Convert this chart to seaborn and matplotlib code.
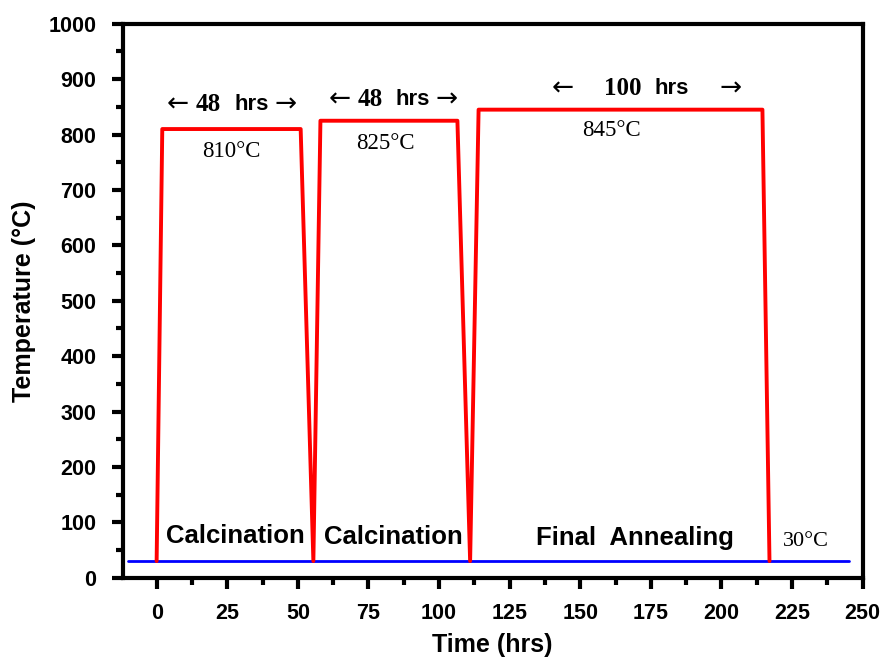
import matplotlib
matplotlib.use("Agg")
import matplotlib.pyplot as plt
from matplotlib.ticker import MultipleLocator
import seaborn as sns
import pandas as pd

# Heat-treatment schedule (time in hours, furnace temperature in °C)
time_hrs = [0, 2, 51, 55.5, 58, 106.5, 111, 114, 214.5, 217]
temp_c = [30, 810, 810, 30, 825, 825, 30, 845, 845, 30]

# Ambient baseline
ambient_time = [-10, 245]
ambient_temp = [30, 30]

stage_names = ["Calcination", "Calcination", "Final  Annealing"]
hold_labels = ["810°C", "825°C", "845°C"]
hold_hours = ["48", "48", "100"]

sns.set_theme(style="white")
plt.rcParams["font.family"] = ["Liberation Sans", "DejaVu Sans"]
plt.rcParams["text.color"] = "black"
plt.rcParams["axes.labelcolor"] = "black"
plt.rcParams["xtick.color"] = "black"
plt.rcParams["ytick.color"] = "black"

fig, ax = plt.subplots(figsize=(8.83, 6.61), dpi=100)
fig.subplots_adjust(left=0.139, right=0.977, top=0.964, bottom=0.126)

profile = pd.DataFrame({"t": time_hrs, "T": temp_c})
ambient = pd.DataFrame({"t": ambient_time, "T": ambient_temp})

sns.lineplot(data=ambient, x="t", y="T", sort=False, color="#0000FF", lw=2.0, ax=ax)
sns.lineplot(data=profile, x="t", y="T", sort=False, color="#FF0000", lw=2.8, ax=ax)

ax.set_xlim(-12, 250)
ax.set_ylim(0, 1000)
ax.xaxis.set_major_locator(MultipleLocator(25))
ax.xaxis.set_minor_locator(MultipleLocator(12.5))
ax.yaxis.set_major_locator(MultipleLocator(100))
ax.yaxis.set_minor_locator(MultipleLocator(50))

for s in ax.spines.values():
    s.set_linewidth(3)
    s.set_color("black")

ax.tick_params(axis="both", which="major", direction="out", length=8, width=3,
               labelsize=15.5, bottom=True, left=True, top=False, right=False)
ax.tick_params(axis="x", which="major", pad=10)
ax.tick_params(axis="y", which="major", pad=11)
ax.tick_params(axis="both", which="minor", direction="out", length=5, width=3,
               bottom=True, left=True, top=False, right=False)
for lab in ax.get_xticklabels() + ax.get_yticklabels():
    lab.set_fontweight("bold")

ax.set_xlabel("Time (hrs)", fontsize=18, fontweight="bold", labelpad=7)
ax.set_ylabel("Temperature (°C)", fontsize=18, fontweight="bold", labelpad=9)

serif = ["Liberation Serif", "DejaVu Serif"]
arrow_font = ["DejaVu Sans"]

# stage names near the baseline
for x, y, name in zip([28, 83.7, 169.3], [76, 74, 72], stage_names):
    ax.text(x, y, name, ha="center", va="center", fontsize=18.5, fontweight="bold")

# hold temperatures
for x, y, lab in zip([26.3, 81, 161], [769, 783, 808], hold_labels):
    ax.text(x, y, lab, ha="center", va="center", fontsize=16.5, family=serif)

# hold durations: "← N hrs →" built from pieces anchored at the gap
anchors = [(25.2, 855), (82.2, 863), (174.3, 884)]
offsets = [(-39, -7, 7, 47), (-38, -6, 7, 47), (-75, -7, 6, 71)]
k = 0.72  # pixels -> points at 100 dpi
for (x, y), num, (la, nr, hl, ra) in zip(anchors, hold_hours, offsets):
    ax.annotate("←", (x, y), xytext=(la * k, 0), textcoords="offset points",
                ha="right", va="center", fontsize=19, family=arrow_font)
    ax.annotate(num, (x, y), xytext=(nr * k, 0), textcoords="offset points",
                ha="right", va="center", fontsize=18, fontweight="bold", family=serif)
    ax.annotate("hrs", (x, y), xytext=(hl * k, 0), textcoords="offset points",
                ha="left", va="center", fontsize=16, fontweight="bold")
    ax.annotate("→", (x, y), xytext=(ra * k, 0), textcoords="offset points",
                ha="left", va="center", fontsize=19, family=arrow_font)

ax.text(230, 65, "30°C", ha="center", va="center", fontsize=16, family=serif)

fig.savefig("out.png", dpi=100)
